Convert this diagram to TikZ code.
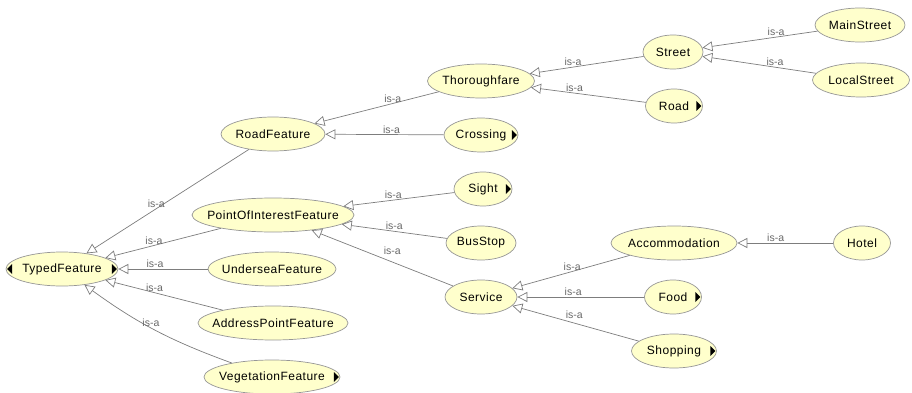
\documentclass[tikz,border=0pt]{standalone}
\usepackage{fontspec}
\setmainfont{Liberation Sans}
\newfontfamily\clsfont[LetterSpace=4]{Liberation Sans}
\usetikzlibrary{arrows.meta, shapes.geometric}

\definecolor{clsfill}{RGB}{255,255,204}
\definecolor{clsline}{RGB}{150,150,150}
\definecolor{edgeline}{RGB}{125,125,125}
\definecolor{lblgray}{RGB}{105,105,105}

% small black markers for collapsed subclasses
\newcommand{\moreright}[1]{\fill ([xshift=-1.5pt]#1.east) -- ++(-5,-5) -- ++(0,10) -- cycle;}
\newcommand{\moreleft}[1]{\fill ([xshift=1.5pt]#1.west) -- ++(5,-5) -- ++(0,10) -- cycle;}

\begin{document}
\begin{tikzpicture}[x=1pt, y=-1pt,
    cls/.style={ellipse, draw=clsline, line width=0.7pt, fill=clsfill, inner xsep=-25pt, inner ysep=0pt,
      minimum height=34pt, font=\clsfont\fontsize{12}{13}\selectfont},
    isa/.style={draw=edgeline, line width=0.7pt, -{Triangle[open, length=10pt, width=10pt]}},
    lbl/.style={font=\fontsize{10.5}{11}\selectfont, text=lblgray, above, inner sep=1pt}]
    \useasboundingbox (0,0) rectangle (912,393);

    % Classes
    \node[cls, minimum width=112pt] (typed) at (62,269) {TypedFeature};
    \node[cls, minimum width=104pt] (roadf) at (273,134) {RoadFeature};
    \node[cls, minimum width=162pt] (poi) at (273,215) {PointOfInterestFeature};
    \node[cls, minimum width=128pt] (undersea) at (272,269) {UnderseaFeature};
    \node[cls, minimum width=150pt] (address) at (273,323) {AddressPointFeature};
    \node[cls, minimum width=136pt] (veg) at (272,377) {VegetationFeature};
    \node[cls, minimum width=107pt] (thor) at (481,81) {Thoroughfare};
    \node[cls, minimum width=74pt] (crossing) at (481,135) {Crossing};
    \node[cls, minimum width=58pt] (sight) at (483,189) {Sight};
    \node[cls, minimum width=70pt] (busstop) at (481,243) {BusStop};
    \node[cls, minimum width=72pt] (service) at (481,297) {Service};
    \node[cls, minimum width=60pt] (street) at (673,52) {Street};
    \node[cls, minimum width=57pt] (road) at (674,106) {Road};
    \node[cls, minimum width=126pt] (accom) at (674,243) {Accommodation};
    \node[cls, minimum width=57pt] (food) at (673,297) {Food};
    \node[cls, minimum width=85pt] (shopping) at (674,351) {Shopping};
    \node[cls, minimum width=90pt] (mainst) at (860,25) {MainStreet};
    \node[cls, minimum width=97pt] (localst) at (861,80) {LocalStreet};
    \node[cls, minimum width=57pt] (hotel) at (862,243) {Hotel};

    \moreleft{typed}
    \moreright{typed}
    \moreright{veg}
    \moreright{crossing}
    \moreright{sight}
    \moreright{road}
    \moreright{food}
    \moreright{shopping}

    % Subclass links
    \draw[isa] (roadf) -- node[lbl, pos=0.57] {is-a} (typed);
    \draw[isa] (poi) -- node[lbl, pos=0.58] {is-a} (typed);
    \draw[isa] (undersea) -- node[lbl, pos=0.59] {is-a} (typed);
    \draw[isa] (address) -- node[lbl, pos=0.58] {is-a} (typed);
    \draw[isa] (veg) to[bend left=8] node[lbl, pos=0.53] {is-a} (typed);

    \draw[isa] (thor) -- node[lbl, pos=0.37] {is-a} (roadf);
    \draw[isa] (crossing) -- node[lbl, pos=0.44] {is-a} (roadf);
    \draw[isa] (sight) -- node[lbl, pos=0.55] {is-a} (poi);
    \draw[isa] (busstop) -- node[lbl, midway] {is-a} (poi);
    \draw[isa] (service) -- node[lbl, pos=0.43, yshift=6pt] {is-a} (poi);

    \draw[isa] (street) -- node[lbl, pos=0.62] {is-a} (thor);
    \draw[isa] (road) -- node[lbl, pos=0.62] {is-a} (thor);
    \draw[isa] (accom) -- node[lbl, pos=0.49] {is-a} (service);
    \draw[isa] (food) -- node[lbl, pos=0.56] {is-a} (service);
    \draw[isa] (shopping) -- node[lbl, pos=0.51, yshift=3pt] {is-a} (service);

    \draw[isa] (mainst) -- node[lbl, pos=0.36] {is-a} (street);
    \draw[isa] (localst) -- node[lbl, pos=0.36] {is-a} (street);
    \draw[isa] (hotel) -- node[lbl, pos=0.6] {is-a} (accom);
\end{tikzpicture}
\end{document}
